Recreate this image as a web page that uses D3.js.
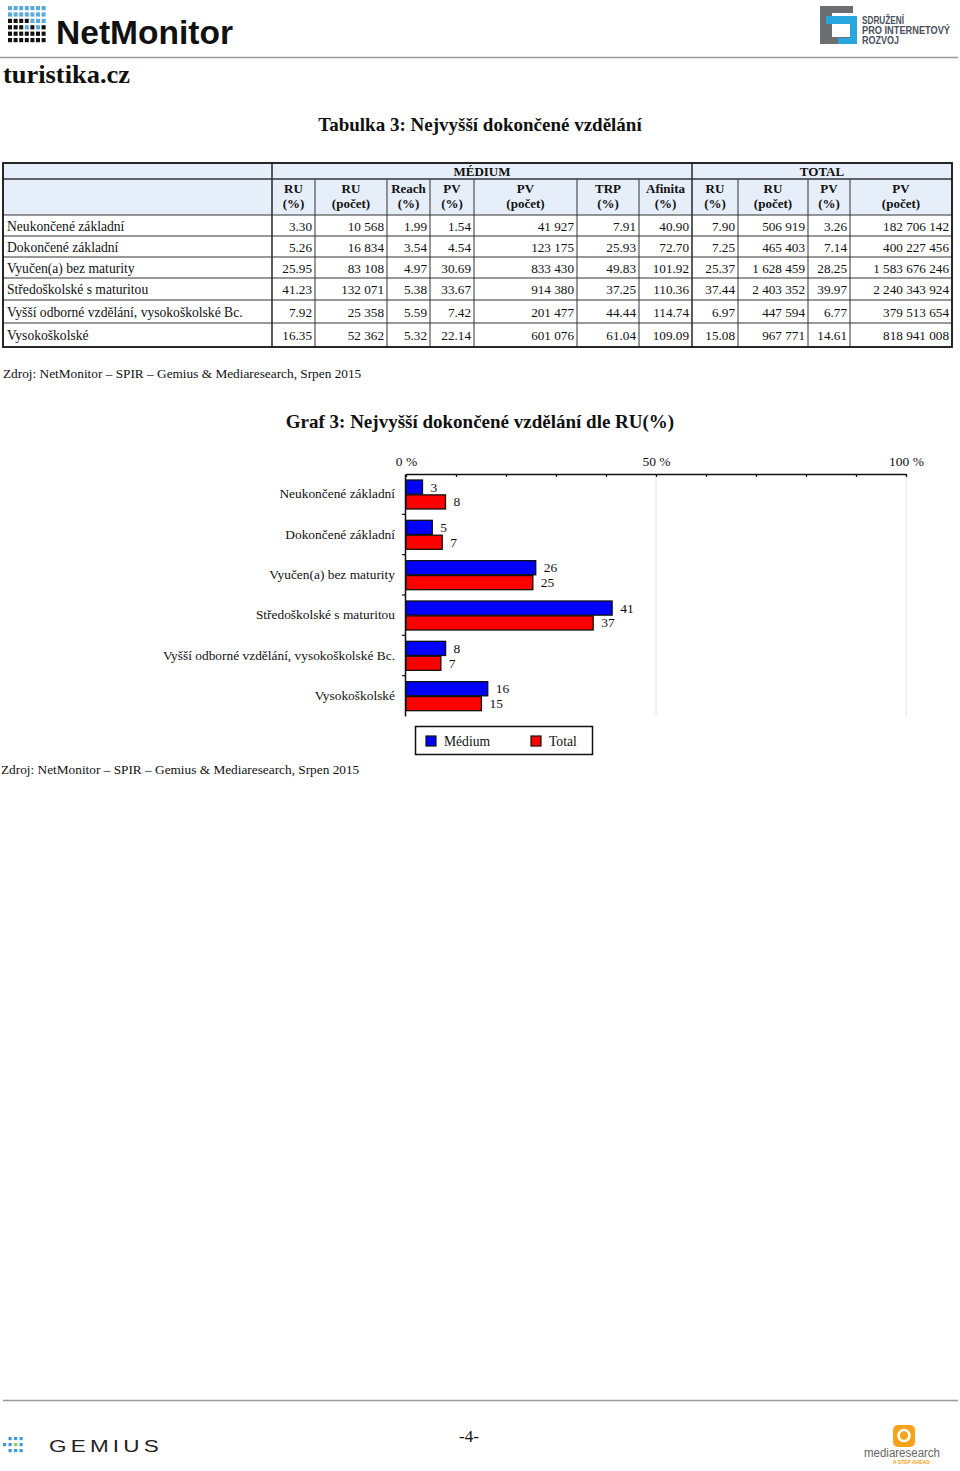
<!DOCTYPE html>
<html><head><meta charset="utf-8">
<script src="https://cdn.jsdelivr.net/npm/d3@7"></script>
<style>
html,body{margin:0;padding:0;background:#fff;}
svg{display:block;}
</style></head>
<body>
<script>
// ---------- DATA ----------
const categories = ["Neukončené základní","Dokončené základní","Vyučen(a) bez maturity","Středoškolské s maturitou","Vyšší odborné vzdělání, vysokoškolské Bc.","Vysokoškolské"];
const mediumRU = [3.30, 5.26, 25.95, 41.23, 7.92, 16.35];
const mediumRUcount = [10568, 16834, 83108, 132071, 25358, 52362];
const mediumReach = [1.99, 3.54, 4.97, 5.38, 5.59, 5.32];
const mediumPV = [1.54, 4.54, 30.69, 33.67, 7.42, 22.14];
const mediumPVcount = [41927, 123175, 833430, 914380, 201477, 601076];
const mediumTRP = [7.91, 25.93, 49.83, 37.25, 44.44, 61.04];
const mediumAfinita = [40.90, 72.70, 101.92, 110.36, 114.74, 109.09];
const totalRU = [7.90, 7.25, 25.37, 37.44, 6.97, 15.08];
const totalRUcount = [506919, 465403, 1628459, 2403352, 447594, 967771];
const totalPV = [3.26, 7.14, 28.25, 39.97, 6.77, 14.61];
const totalPVcount = [182706142, 400227456, 1583676246, 2240343924, 379513654, 818941008];
const columnHeaders = [["RU","(%)"],["RU","(počet)"],["Reach","(%)"],["PV","(%)"],["PV","(počet)"],["TRP","(%)"],["Afinita","(%)"],["RU","(%)"],["RU","(počet)"],["PV","(%)"],["PV","(počet)"]];
const groupHeaders = ["MÉDIUM","TOTAL"];
const seriesNames = ["Médium","Total"];
const axisTicks = [0,10,20,30,40,50,60,70,80,90,100];
const axisLabels = [0,50,100];
const sourceText = "Zdroj: NetMonitor – SPIR – Gemius & Mediaresearch, Srpen 2015";

// ---------- SETUP ----------
const SERIF = "'Liberation Serif','Times New Roman',serif";
const SANS = "'Liberation Sans',Arial,sans-serif";
const svg = d3.select("body").append("svg").attr("width",960).attr("height",1471);

const loc = d3.formatLocale({decimal:".", thousands:" ", grouping:[3], currency:["",""]});
const fInt = loc.format(",d");
const f2 = d3.format(".2f");

// ---------- HEADER ----------
const hdr = svg.append("g");
const dotPattern = [
 "bbbbbbb",
 "bbbbbbb",
 "kkkkbbb",
 "kkkbkbk",
 "kkkkkkk",
 "kkkkkkk"];
dotPattern.forEach((row,r)=>{
  row.split("").forEach((c,ci)=>{
    hdr.append("rect").attr("x",8+ci*5.6).attr("y",6+r*6.4).attr("width",4).attr("height",4.2)
      .attr("fill", c==="b" ? "#5aa9dc" : "#111");
  });
});
hdr.append("text").attr("x",56).attr("y",44).attr("font-family",SANS).attr("font-weight","bold")
  .attr("font-size",34).attr("textLength",177).attr("lengthAdjust","spacingAndGlyphs").attr("fill","#111").text("NetMonitor");
// SPIR logo
hdr.append("path").attr("d","M820,6 H853 V13 H832 V37 H853 V44 H820 Z").attr("fill","#6d6e71");
hdr.append("path").attr("d","M826,16 H857 V44 H838 V38 H850 V24 H826 Z").attr("fill","#2aa6df");
[["SDRUŽENÍ",24,42],["PRO INTERNETOVÝ",34,88],["ROZVOJ",44,37]].forEach(([t,yy,len])=>{
  hdr.append("text").attr("x",862).attr("y",yy).attr("font-family","'Liberation Sans Narrow','Liberation Sans',Arial,sans-serif")
   .attr("font-weight","bold").attr("font-size",10).attr("fill","#4b4f5c")
   .attr("textLength",len).attr("lengthAdjust","spacingAndGlyphs").text(t);
});
hdr.append("line").attr("x1",0).attr("x2",958).attr("y1",57.5).attr("y2",57.5).attr("stroke","#9a9a9a").attr("stroke-width",1.5);
hdr.append("text").attr("x",3).attr("y",83).attr("font-family",SERIF).attr("font-weight","bold").attr("font-size",25)
  .attr("textLength",127).attr("lengthAdjust","spacingAndGlyphs").attr("fill","#111").text("turistika.cz");

// ---------- TABLE ----------
svg.append("text").attr("x",480).attr("y",131).attr("text-anchor","middle").attr("font-family",SERIF)
  .attr("font-weight","bold").attr("font-size",19).attr("fill","#111").text("Tabulka 3: Nejvyšší dokončené vzdělání");

const colEdges = [3,272,315,387,430,474,577,639,692,738,808,850,952];
const rowEdges = [215,236,257,278,300,323,347];
const tTop = 163, tMid = 179;
const columns = [mediumRU,mediumRUcount,mediumReach,mediumPV,mediumPVcount,mediumTRP,mediumAfinita,totalRU,totalRUcount,totalPV,totalPVcount];
const isCount = [false,true,false,false,true,false,false,false,true,false,true];
const tbl = svg.append("g").attr("font-family",SERIF).attr("fill","#111");
tbl.append("rect").attr("x",colEdges[0]).attr("y",tTop).attr("width",colEdges[12]-colEdges[0]).attr("height",rowEdges[0]-tTop).attr("fill","#e6eef9");
[[1,8],[8,12]].forEach(([a,b],i)=>{
  tbl.append("text").attr("x",(colEdges[a]+colEdges[b])/2).attr("y",176).attr("text-anchor","middle")
    .attr("font-weight","bold").attr("font-size",13).text(groupHeaders[i]);
});
columnHeaders.forEach((h,i)=>{
  const cx = (colEdges[i+1]+colEdges[i+2])/2;
  tbl.append("text").attr("x",cx).attr("y",193).attr("text-anchor","middle").attr("font-weight","bold").attr("font-size",13).text(h[0]);
  tbl.append("text").attr("x",cx).attr("y",208).attr("text-anchor","middle").attr("font-weight","bold").attr("font-size",13).text(h[1]);
});
categories.forEach((c,r)=>{
  const cy = (rowEdges[r]+rowEdges[r+1])/2 + 5;
  tbl.append("text").attr("x",7).attr("y",cy).attr("font-size",13.6).text(c);
  columns.forEach((col,j)=>{
    tbl.append("text").attr("x",colEdges[j+2]-3).attr("y",cy).attr("text-anchor","end").attr("font-size",13.2)
      .text(isCount[j] ? fInt(col[r]) : f2(col[r]));
  });
});
const lines = tbl.append("g").attr("stroke","#333").attr("fill","none");
[tMid, ...rowEdges.slice(0,-1)].forEach(yv=>{
  lines.append("line").attr("x1",colEdges[0]).attr("x2",colEdges[12]).attr("y1",yv).attr("y2",yv).attr("stroke-width", yv===tMid?1.6:1);
});
colEdges.slice(1,-1).forEach((xv,i)=>{
  const full = (i===0 || i===7);
  lines.append("line").attr("x1",xv).attr("x2",xv).attr("y1",full?tTop:tMid).attr("y2",rowEdges[6]).attr("stroke-width", full?1.6:1);
});
lines.append("rect").attr("x",colEdges[0]).attr("y",tTop).attr("width",colEdges[12]-colEdges[0]).attr("height",rowEdges[6]-tTop)
  .attr("stroke","#111").attr("stroke-width",1.8);

svg.append("text").attr("x",3).attr("y",378).attr("font-family",SERIF).attr("font-size",13.3).attr("fill","#111").text(sourceText);

// ---------- CHART ----------
svg.append("text").attr("x",480).attr("y",428).attr("text-anchor","middle").attr("font-family",SERIF)
  .attr("font-weight","bold").attr("font-size",19).attr("fill","#111").text("Graf 3: Nejvyšší dokončené vzdělání dle RU(%)");

const x = d3.scaleLinear().domain([0,100]).range([406,906]);
const y0 = d3.scaleBand().domain(categories).range([474,716]);
const y1 = d3.scaleBand().domain(seriesNames).range([6,35]).paddingInner(0.05);
const color = d3.scaleOrdinal().domain(seriesNames).range(["#0000ff","#ff0000"]);
const chart = svg.append("g");

chart.selectAll("line.grid").data(axisLabels.filter(d=>d>0)).join("line")
  .attr("x1",d=>x(d)).attr("x2",d=>x(d)).attr("y1",474).attr("y2",716).attr("stroke","#e4e4e4").attr("stroke-width",1);

const xAxis = d3.axisTop(x).tickValues(axisTicks).tickSize(-3).tickSizeOuter(0).tickPadding(8)
  .tickFormat(d=> axisLabels.includes(d) ? d+" %" : "");
const gx = chart.append("g").attr("transform","translate(0,474)").call(xAxis);
gx.select(".domain").attr("stroke","#111").attr("stroke-width",1.5);
gx.selectAll(".tick line").attr("stroke","#111").attr("stroke-width",1.2);
gx.selectAll(".tick text").attr("font-family",SERIF).attr("font-size",13.5).attr("fill","#111");

const yAxis = d3.axisLeft(y0).tickSize(0).tickPadding(10);
const gy = chart.append("g").attr("transform","translate(405,0)").call(yAxis);
gy.select(".domain").attr("stroke","#111").attr("stroke-width",1.5);
gy.selectAll(".tick text").attr("font-family",SERIF).attr("font-size",13.4).attr("fill","#111");
chart.selectAll("line.bt").data(categories.slice(1)).join("line")
  .attr("x1",402).attr("x2",405).attr("y1",d=>y0(d)).attr("y2",d=>y0(d)).attr("stroke","#111").attr("stroke-width",1.2);

const barData = categories.flatMap((c,i)=>[
  {cat:c, s:"Médium", v:mediumRU[i]},
  {cat:c, s:"Total", v:totalRU[i]}]);
chart.selectAll("rect.bar").data(barData).join("rect")
  .attr("x",x(0)).attr("y",d=>y0(d.cat)+y1(d.s)).attr("width",d=>x(d.v)-x(0)).attr("height",y1.bandwidth())
  .attr("fill",d=>color(d.s)).attr("stroke","#111").attr("stroke-width",1.3);
chart.selectAll("text.val").data(barData).join("text")
  .attr("x",d=>x(d.v)+8).attr("y",d=>y0(d.cat)+y1(d.s)+y1.bandwidth()/2+4.5)
  .attr("font-family",SERIF).attr("font-size",13.5).attr("fill","#111").text(d=>Math.round(d.v));

const lg = chart.append("g");
lg.append("rect").attr("x",415.5).attr("y",726.5).attr("width",177).attr("height",28).attr("fill","#fff").attr("stroke","#111").attr("stroke-width",1.5);
seriesNames.forEach((s,i)=>{
  const lx = [426,531][i];
  lg.append("rect").attr("x",lx).attr("y",736).attr("width",10).attr("height",10).attr("fill",color(s)).attr("stroke","#111").attr("stroke-width",1.2);
  lg.append("text").attr("x",lx+18).attr("y",745.5).attr("font-family",SERIF).attr("font-size",13.6).attr("fill","#111").text(s);
});

svg.append("text").attr("x",1).attr("y",774).attr("font-family",SERIF).attr("font-size",13.3).attr("fill","#111").text(sourceText);

// ---------- FOOTER ----------
const ft = svg.append("g");
ft.append("line").attr("x1",3).attr("x2",958).attr("y1",1400.5).attr("y2",1400.5).attr("stroke","#9a9a9a").attr("stroke-width",1.5);
const gDots = [[1,1,1,1],[1,1,2,1],[1,1,1,1]];
gDots.forEach((row,r)=>row.forEach((v,c)=>{
  if(r!==1 && c===0) return;
  ft.append("rect").attr("x",3+c*5.5).attr("y",1437+r*6).attr("width",3.2).attr("height",3.2)
    .attr("fill", v===2 ? "#a5c83a" : "#3b9be0");
}));
ft.append("text").attr("x",49).attr("y",1452).attr("font-family",SANS).attr("font-size",16).attr("fill","#222")
  .attr("letter-spacing",3).attr("textLength",114).attr("lengthAdjust","spacingAndGlyphs").text("GEMIUS");
ft.append("text").attr("x",469).attr("y",1442).attr("text-anchor","middle").attr("font-family",SERIF).attr("font-size",17).attr("fill","#111").text("-4-");
ft.append("rect").attr("x",893).attr("y",1425).attr("width",22).attr("height",22).attr("rx",5).attr("fill","#f5a31a");
ft.append("circle").attr("cx",904).attr("cy",1435.5).attr("r",5.5).attr("fill","none").attr("stroke","#fff").attr("stroke-width",2.6);
ft.append("text").attr("x",864).attr("y",1457).attr("font-family",SANS).attr("font-size",12.5).attr("fill","#666")
  .attr("textLength",76).attr("lengthAdjust","spacingAndGlyphs").text("mediaresearch");
ft.append("text").attr("x",893).attr("y",1464).attr("font-family",SANS).attr("font-weight","bold").attr("font-size",5).attr("fill","#f5a31a").text("A STEP AHEAD");
</script>
</body></html>
